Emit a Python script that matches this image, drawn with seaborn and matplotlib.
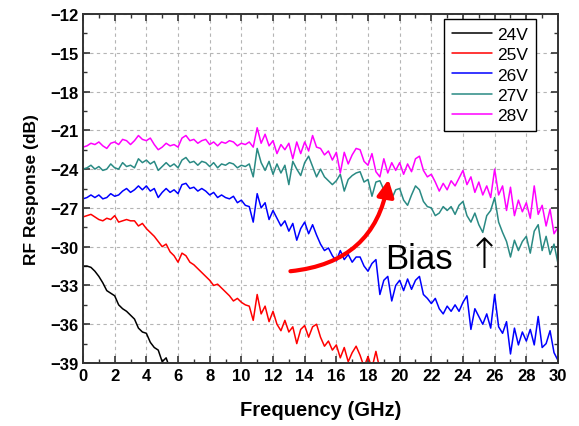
import numpy as np
import pandas as pd
import seaborn as sns
import matplotlib.pyplot as plt
from matplotlib.ticker import MultipleLocator

# frequency grid, 0.25 GHz steps
freq = [i * 0.25 for i in range(121)]

v24 = [-31.5, -31.5, -31.6, -31.9, -32.3, -32.8, -33.4, -33.6, -33.8, -34.5,
       -34.8, -35.0, -35.3, -35.6, -36.3, -36.6, -36.7, -37.4, -37.8, -38.0,
       -38.9, -38.6, -39.5, -39.3, -40.0]

v25 = [-27.7, -27.6, -27.5, -27.7, -27.9, -28.0, -27.8, -27.9, -27.6, -28.1,
       -28.0, -27.9, -28.0, -28.0, -28.4, -28.2, -28.6, -28.9, -29.2, -29.6,
       -30.0, -29.8, -30.4, -30.7, -31.2, -30.5, -30.7, -31.2, -31.4, -31.7,
       -32.0, -32.3, -32.6, -33.0, -32.9, -33.2, -33.5, -33.8, -34.2, -34.0,
       -34.3, -34.5, -34.6, -35.7, -33.7, -35.2, -34.6, -35.8, -35.0, -36.0,
       -36.5, -35.7, -36.6, -36.2, -37.5, -36.4, -36.1, -37.0, -36.2, -36.0,
       -37.0, -37.7, -37.3, -38.0, -37.6, -38.6, -37.8, -38.9, -38.2, -37.7,
       -38.4, -39.3, -38.5, -39.4, -38.1, -39.5, -40.0, -40.5, -40.2, -41.0,
       -40.6, -40.2, -39.0, -40.8, -41.0]

v26 = [-26.3, -26.2, -26.0, -26.2, -26.0, -26.3, -26.2, -25.9, -26.1, -26.0,
       -25.7, -25.5, -25.8, -25.6, -25.3, -25.6, -25.3, -25.7, -25.5, -26.2,
       -25.8, -25.5, -25.8, -25.6, -25.9, -25.2, -25.1, -25.5, -25.4, -25.7,
       -25.5, -25.7, -26.0, -25.8, -26.2, -26.0, -26.2, -26.3, -26.1, -26.6,
       -26.4, -26.8, -26.9, -28.1, -25.9, -27.0, -26.6, -27.9, -27.2, -27.8,
       -28.4, -28.0, -28.8, -28.2, -29.5, -28.6, -28.1, -29.0, -28.3, -29.1,
       -29.8, -30.3, -30.1, -30.7, -31.1, -30.3, -31.0, -30.6, -31.2, -30.8,
       -30.8, -31.5, -31.9, -31.3, -31.0, -33.7, -32.6, -32.3, -34.2, -33.0,
       -32.6, -33.4, -32.5, -33.3, -32.6, -32.3, -33.7, -34.0, -34.4, -34.0,
       -34.8, -35.2, -34.6, -35.0, -34.5, -35.0, -34.3, -33.8, -36.4, -34.8,
       -35.4, -36.0, -35.2, -36.3, -33.7, -36.2, -36.7, -35.8, -38.3, -36.3,
       -37.6, -36.6, -37.3, -36.4, -37.6, -35.4, -37.8, -37.5, -36.5, -38.2,
       -38.8]

v27 = [-24.0, -23.9, -23.7, -24.0, -23.8, -24.1, -24.0, -23.6, -23.9, -24.0,
       -23.5, -23.8, -23.7, -23.9, -23.2, -23.5, -23.3, -23.6, -23.4, -24.1,
       -23.8, -23.5, -23.8, -23.6, -23.9, -23.3, -23.1, -23.5, -23.4, -23.7,
       -23.4, -23.5, -23.8, -23.5, -23.9, -23.6, -23.7, -23.5, -23.6, -23.9,
       -23.7, -23.8, -23.6, -24.6, -22.4, -23.5, -24.1, -23.4, -24.4, -23.6,
       -24.3, -23.7, -25.2, -23.4, -24.0, -24.5, -23.5, -23.0, -23.8, -24.6,
       -24.0, -24.6, -24.9, -25.2, -24.9, -24.4, -25.7, -24.8, -24.5, -24.3,
       -24.2, -25.0, -24.8, -26.1, -25.0, -24.9, -25.6, -25.3, -26.3, -25.6,
       -25.5, -26.4, -26.8, -26.0, -25.3, -25.6, -26.5, -26.9, -27.0, -27.6,
       -27.4, -26.9, -27.2, -26.9, -27.5, -26.8, -26.5, -27.6, -28.1, -27.4,
       -28.3, -28.9, -27.6, -27.2, -26.2, -28.1, -28.9, -29.6, -30.8, -29.5,
       -30.3, -29.6, -29.2, -30.5, -28.8, -28.3, -30.3, -29.2, -30.6, -29.8,
       -31.3]

v28 = [-22.3, -22.2, -22.0, -22.1, -21.9, -22.2, -22.4, -22.0, -21.9, -22.1,
       -21.7, -21.8, -22.1, -21.8, -21.4, -21.7, -21.8, -21.6, -22.1, -22.5,
       -22.3, -22.0, -22.2, -22.1, -22.3, -21.6, -21.4, -21.8, -21.7, -22.0,
       -21.8, -21.7, -22.1, -21.9, -22.2, -21.9, -22.0, -21.8, -21.9, -22.2,
       -22.0, -22.1, -21.9, -22.3, -20.8, -22.0, -21.3, -22.2, -21.8, -22.8,
       -22.1, -22.5, -22.0, -23.2, -21.9, -22.8, -21.9, -22.6, -21.4, -22.3,
       -22.4, -22.9, -22.6, -23.3, -22.7, -24.3, -22.7, -23.6, -22.9, -22.4,
       -22.5, -23.4, -23.7, -22.8, -24.2, -24.6, -23.2, -24.3, -23.5, -24.1,
       -23.5, -24.4, -23.6, -24.2, -23.2, -23.0, -24.1, -24.6, -24.4, -25.0,
       -25.7, -25.1, -25.6, -24.9, -25.3, -24.7, -24.1, -25.2, -24.6, -25.8,
       -25.0, -26.0, -25.3, -26.2, -24.0, -26.0, -25.3, -27.2, -25.4, -27.6,
       -26.4, -27.3, -26.6, -27.8, -25.3, -27.5, -26.8, -28.4, -27.1, -29.0,
       -28.5]

labels = ['24V', '25V', '26V', '27V', '28V']
series = [v24, v25, v26, v27, v28]
colors = ['#000000', '#ff0000', '#0000ff', '#2a8a84', '#ff00ff']

rows = []
for lab, vals in zip(labels, series):
    for f, v in zip(freq[:len(vals)], vals):
        rows.append((f, v, lab))
df = pd.DataFrame(rows, columns=['freq', 'resp', 'bias'])

sns.set_style('ticks')
plt.rcParams['font.family'] = ['Liberation Sans', 'DejaVu Sans']
plt.rcParams['text.color'] = 'black'

fig = plt.figure(figsize=(5.79, 4.27), dpi=100)
ax = fig.add_axes([0.1434, 0.1475, 0.8203, 0.8174])

sns.lineplot(data=df, x='freq', y='resp', hue='bias', palette=colors,
             hue_order=labels, lw=1.1, ax=ax, sort=False, estimator=None)

ax.set_xlim(0, 30)
ax.set_ylim(-39, -12)
ax.xaxis.set_major_locator(MultipleLocator(2))
ax.xaxis.set_minor_locator(MultipleLocator(1))
ax.yaxis.set_major_locator(MultipleLocator(3))
ax.yaxis.set_minor_locator(MultipleLocator(1.5))
ax.grid(True, which='major', color='#b5b5b5', ls=(0, (3, 3)), lw=0.8)
ax.tick_params(which='both', direction='in', top=True, right=True,
               colors='#333333', labelcolor='black')
ax.tick_params(which='major', length=5, width=1.2, labelsize=12)
ax.tick_params(which='minor', length=3, width=1.0)
for lb in ax.get_xticklabels() + ax.get_yticklabels():
    lb.set_fontweight('bold')
for sp in ax.spines.values():
    sp.set_color('#333333')
    sp.set_linewidth(1.4)

ax.set_xlabel('Frequency (GHz)', fontsize=14.5, fontweight='bold', labelpad=12,
              color='black')
ax.set_ylabel('RF Response (dB)', fontsize=12.5, fontweight='bold', labelpad=8,
              color='black')

handles, _ = ax.get_legend_handles_labels()
leg = ax.legend(handles, labels, loc='upper right', bbox_to_anchor=(0.954, 0.986),
                borderaxespad=0, fontsize=12.5, frameon=True, fancybox=False,
                edgecolor='black', framealpha=1, handlelength=2.3,
                handletextpad=0.3, labelspacing=0.3, borderpad=0.45)
leg.get_frame().set_linewidth(1.0)

ax.annotate('', xy=(19.3, -24.8), xytext=(13.1, -31.9),
            arrowprops=dict(arrowstyle='-|>', color='red', lw=3,
                            mutation_scale=25, shrinkA=0, shrinkB=0,
                            connectionstyle='arc3,rad=0.38'))
ax.text(19.1, -30.9, 'Bias', fontsize=25, va='center', ha='left', color='black')
ax.text(25.35, -30.6, '\u2191', fontsize=30, va='center', ha='center',
        color='black', family='DejaVu Sans', fontweight='light')

fig.savefig('out.png', dpi=100)
